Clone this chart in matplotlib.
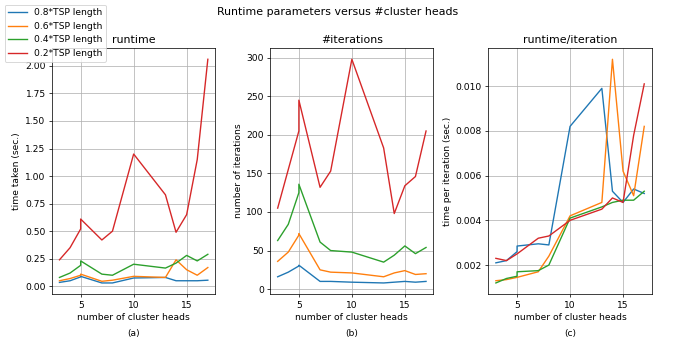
import matplotlib
matplotlib.use("Agg")
import matplotlib.pyplot as plt

heads = [3, 4, 5, 5, 7, 8, 10, 13, 14, 15, 16, 17]
labels = ["0.8*TSP length", "0.6*TSP length", "0.4*TSP length", "0.2*TSP length"]

runtime_08 = [0.035, 0.05, 0.085, 0.09, 0.03, 0.03, 0.075, 0.08, 0.05, 0.05, 0.05, 0.055]
runtime_06 = [0.05, 0.07, 0.10, 0.11, 0.045, 0.055, 0.09, 0.08, 0.24, 0.15, 0.10, 0.17]
runtime_04 = [0.08, 0.12, 0.19, 0.23, 0.11, 0.10, 0.20, 0.165, 0.21, 0.28, 0.23, 0.29]
runtime_02 = [0.24, 0.35, 0.52, 0.61, 0.42, 0.50, 1.20, 0.83, 0.49, 0.65, 1.15, 2.06]

iters_08 = [16, 22, 30, 31, 10, 10, 9, 8, 9, 10, 9, 10]
iters_06 = [36, 48, 70, 72, 25, 22, 21, 16, 21, 24, 19, 20]
iters_04 = [63, 84, 125, 136, 61, 50, 48, 35, 44, 56, 46, 54]
iters_02 = [105, 155, 205, 245, 132, 153, 298, 183, 98, 134, 146, 205]

per_iter_08 = [0.0021, 0.0022, 0.0026, 0.00285, 0.00295, 0.0029, 0.0082, 0.0099, 0.0053, 0.0048, 0.0054, 0.0052]
per_iter_06 = [0.0013, 0.00135, 0.00145, 0.00145, 0.0017, 0.0024, 0.0042, 0.0048, 0.0112, 0.0062, 0.0051, 0.0082]
per_iter_04 = [0.0012, 0.0014, 0.0015, 0.0017, 0.00175, 0.0020, 0.0041, 0.0046, 0.0048, 0.0049, 0.0049, 0.0053]
per_iter_02 = [0.0023, 0.0022, 0.0025, 0.0025, 0.0032, 0.0033, 0.0040, 0.0045, 0.0050, 0.0048, 0.0078, 0.0101]

panels = [
    ("runtime", "time taken (sec.)", "(a)", [runtime_08, runtime_06, runtime_04, runtime_02]),
    ("#iterations", "number of iterations", "(b)", [iters_08, iters_06, iters_04, iters_02]),
    ("runtime/iteration", "time per iteration (sec.)", "(c)", [per_iter_08, per_iter_06, per_iter_04, per_iter_02]),
]

# the reference looks like default styling rendered at a low dpi
fig, axes = plt.subplots(1, 3, figsize=(676 / 66, 351 / 66), dpi=66)
plt.subplots_adjust(left=0.077, right=0.964, top=0.863, bottom=0.162, wspace=0.337)

for ax, (title, ylabel, tag, series) in zip(axes, panels):
    for ys, lab in zip(series, labels):
        ax.plot(heads, ys, label=lab)
    ax.set_title(title)
    ax.set_ylabel(ylabel)
    ax.set_xlabel("number of cluster heads")
    ax.grid(True)
    ax.text(0.5, -0.158, tag, transform=ax.transAxes, ha="center", va="center")

handles, labs = axes[0].get_legend_handles_labels()
fig.legend(handles, labs, loc="upper left", bbox_to_anchor=(0.0, 1.0))
fig.suptitle("Runtime parameters versus #cluster heads")

plt.savefig("out.png", dpi=66)
